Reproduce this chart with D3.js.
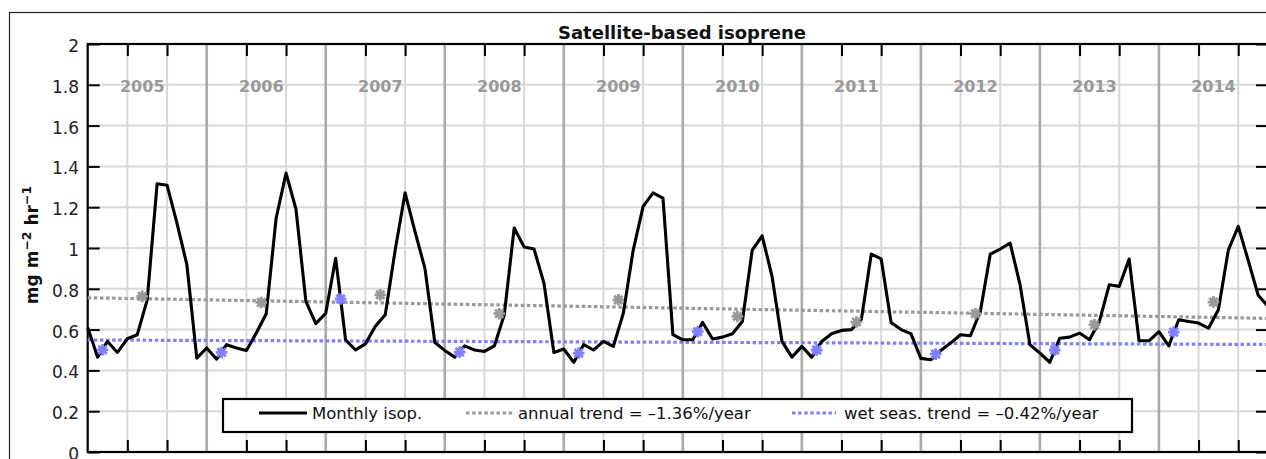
<!DOCTYPE html>
<html><head><meta charset="utf-8">
<script src="https://cdn.jsdelivr.net/npm/d3@7"></script>
<style>body{margin:0;background:#fff;overflow:hidden}svg{display:block;font-family:"DejaVu Sans",sans-serif}</style>
</head><body><svg id="c" width="1266" height="459"></svg>
<script>
// ---------- data ----------
const years = ["2005","2006","2007","2008","2009","2010","2011","2012","2013","2014"];
const monthlyIsop = [
  0.61, 0.465, 0.542, 0.488, 0.555, 0.575, 0.746, 1.315, 1.308, 1.122, 0.918, 0.46,
  0.51, 0.455, 0.526, 0.51, 0.498, 0.583, 0.678, 1.147, 1.367, 1.19, 0.738, 0.629,
  0.68, 0.95, 0.55, 0.50, 0.53, 0.616, 0.673, 0.99, 1.27, 1.08, 0.90, 0.537,
  0.498, 0.465, 0.52, 0.50, 0.493, 0.52, 0.673, 1.098, 1.005, 0.995, 0.828, 0.488,
  0.505, 0.439, 0.526, 0.50, 0.542, 0.518, 0.68, 0.99, 1.204, 1.27, 1.245, 0.575,
  0.55, 0.55, 0.635, 0.554, 0.563, 0.58, 0.64, 0.99, 1.06, 0.86, 0.542, 0.465,
  0.518, 0.465, 0.542, 0.58, 0.596, 0.60, 0.65, 0.97, 0.947, 0.635, 0.60, 0.58,
  0.459, 0.452, 0.498, 0.534, 0.575, 0.57, 0.69, 0.97, 0.995, 1.024, 0.82, 0.526,
  0.485, 0.44, 0.558, 0.563, 0.583, 0.55, 0.64, 0.82, 0.812, 0.946, 0.545, 0.545,
  0.59, 0.52, 0.648, 0.64, 0.632, 0.607, 0.697, 0.99, 1.106, 0.94, 0.77, 0.714
];
const annualMeans = [0.763, 0.733, 0.77, 0.678, 0.746, 0.665, 0.637, 0.678, 0.624, 0.735];
const wetMeans    = [0.501, 0.488, 0.75, 0.49, 0.485, 0.59, 0.50, 0.48, 0.50, 0.588];
const annualTrendEnds = [0.756, 0.655];
const wetTrendEnds    = [0.549, 0.527];
const yTickValues = [0, 0.2, 0.4, 0.6, 0.8, 1, 1.2, 1.4, 1.6, 1.8, 2];
const yTickLabels = ["0","0.2","0.4","0.6","0.8","1","1.2","1.4","1.6","1.8","2"];
const legendLabels = ["Monthly isop.", "annual trend = \u20131.36%/year", "wet seas. trend = \u20130.42%/year"];
const titleText = "Satellite-based isoprene";

// ---------- layout ----------
const svg = d3.select("#c");
const nMonths = monthlyIsop.length;
const x = d3.scaleLinear().domain([0, nMonths - 1]).range([87.7, 1268]);
const y = d3.scaleLinear().domain([0, 2]).range([452, 44]);
const GRAY = "#999999", BLUE = "#8080ff";

// outer figure border
svg.append("rect").attr("x", 9.5).attr("y", 12.5).attr("width", 1300).attr("height", 500)
  .attr("fill", "none").attr("stroke", "#222").attr("stroke-width", 1.2);

const monthIdx = d3.range(nMonths);
const minorMonths = monthIdx.filter(i => i % 12 === 4 || i % 12 === 8);
const yearStarts = monthIdx.filter(i => i % 12 === 0 && i > 0);

// grid
const grid = svg.append("g");
grid.selectAll("line.h").data(yTickValues.filter(v => v > 0 && v < 2)).join("line")
  .attr("x1", x(0)).attr("x2", x(nMonths - 1)).attr("y1", d => y(d)).attr("y2", d => y(d))
  .attr("stroke", "#d8d8d8").attr("stroke-width", 2);
grid.selectAll("line.v").data(minorMonths).join("line")
  .attr("x1", d => x(d)).attr("x2", d => x(d)).attr("y1", y(0)).attr("y2", y(2))
  .attr("stroke", "#d8d8d8").attr("stroke-width", 2);

// year labels
svg.append("g").selectAll("text").data(years).join("text")
  .attr("x", (d, k) => x(5.5 + 12 * k)).attr("y", y(1.8)).attr("dy", "0.42em")
  .attr("text-anchor", "middle").attr("font-weight", "bold").attr("font-size", 16)
  .attr("fill", GRAY).text(d => d);

// axes (ticks inward)
function styleAxis(g) {
  g.select(".domain").remove();
  g.selectAll(".tick line").attr("stroke", "#000").attr("stroke-width", 2);
  g.attr("font-size", 17).attr("font-family", '"DejaVu Sans", sans-serif');
  g.selectAll(".tick text").attr("fill", "#222");
}
svg.append("g").attr("transform", `translate(${x(0)},0)`)
  .call(d3.axisLeft(y).tickValues(yTickValues).tickSize(-12).tickPadding(8.7)
    .tickFormat((d, i) => yTickLabels[i]))
  .call(styleAxis).call(g => g.selectAll(".tick text").attr("dy", "0.44em"));
svg.append("g").attr("transform", `translate(${x(nMonths - 1)},0)`)
  .call(d3.axisRight(y).tickValues(yTickValues).tickSize(-12).tickFormat(""))
  .call(styleAxis);
svg.append("g").attr("transform", `translate(0,${y(2)})`)
  .call(d3.axisTop(x).tickValues(minorMonths).tickSize(-12).tickFormat(""))
  .call(styleAxis);
svg.append("g").attr("transform", `translate(0,${y(0)})`)
  .call(d3.axisBottom(x).tickValues(minorMonths).tickSize(-12).tickFormat(""))
  .call(styleAxis);

// year boundary lines
svg.append("g").selectAll("line").data(yearStarts).join("line")
  .attr("x1", d => x(d)).attr("x2", d => x(d)).attr("y1", y(0)).attr("y2", y(2))
  .attr("stroke", "#aaaaaa").attr("stroke-width", 2.6);

// frame
svg.append("rect").attr("x", x(0)).attr("y", y(2))
  .attr("width", x(nMonths - 1) - x(0)).attr("height", y(0) - y(2))
  .attr("fill", "none").attr("stroke", "#000").attr("stroke-width", 2.2);

// trend lines
const line2 = d3.line().x(d => x(d[0])).y(d => y(d[1]));
svg.append("path").datum([[0, annualTrendEnds[0]], [nMonths - 1, annualTrendEnds[1]]])
  .attr("d", line2).attr("fill", "none").attr("stroke", GRAY)
  .attr("stroke-width", 3.2).attr("stroke-dasharray", "3.5 2.6");
svg.append("path").datum([[0, wetTrendEnds[0]], [nMonths - 1, wetTrendEnds[1]]])
  .attr("d", line2).attr("fill", "none").attr("stroke", BLUE)
  .attr("stroke-width", 3.2).attr("stroke-dasharray", "3.5 2.6");

// monthly line
svg.append("path").datum(monthlyIsop)
  .attr("d", d3.line().x((d, i) => x(i)).y(d => y(d)))
  .attr("fill", "none").attr("stroke", "#000").attr("stroke-width", 3.1)
  .attr("stroke-linejoin", "round");

// asterisk markers
const r = 5.8;
const starPath = `M${-r},0L${r},0M0,${-r}L0,${r}M${-r*0.72},${-r*0.72}L${r*0.72},${r*0.72}M${-r*0.72},${r*0.72}L${r*0.72},${-r*0.72}`;
svg.append("g").selectAll("path").data(annualMeans).join("path")
  .attr("transform", (d, k) => `translate(${x(5.5 + 12 * k)},${y(d)})`)
  .attr("d", starPath).attr("stroke", GRAY).attr("stroke-width", 2.8).attr("fill", "none");
svg.append("g").selectAll("path").data(wetMeans).join("path")
  .attr("transform", (d, k) => `translate(${x(1.5 + 12 * k)},${y(d)})`)
  .attr("d", starPath).attr("stroke", BLUE).attr("stroke-width", 2.8).attr("fill", "none");

// title
svg.append("text").attr("x", 682).attr("y", 39).attr("text-anchor", "middle")
  .attr("font-weight", "bold").attr("font-size", 18).attr("fill", "#111").text(titleText);

// y label
const yl = svg.append("text").attr("transform", "translate(38,245) rotate(-90)")
  .attr("text-anchor", "middle").attr("font-weight", "bold").attr("font-size", 17).attr("fill", "#111");
yl.append("tspan").text("mg m");
yl.append("tspan").attr("dy", -7).attr("font-size", 12.5).text("\u22122");
yl.append("tspan").attr("dy", 7).text(" hr");
yl.append("tspan").attr("dy", -7).attr("font-size", 12.5).text("\u22121");

// legend
const lg = svg.append("g");
lg.append("rect").attr("x", 223).attr("y", 399).attr("width", 909).attr("height", 33)
  .attr("fill", "#fff").attr("stroke", "#000").attr("stroke-width", 2.2);
const legendItems = [
  {x0: 259, x1: 307, tx: 312, color: "#000", dash: null, w: 3.1},
  {x0: 466, x1: 513, tx: 518, color: GRAY, dash: "3.5 2.6", w: 3.2},
  {x0: 792, x1: 836, tx: 844, color: BLUE, dash: "3.5 2.6", w: 3.2}
];
legendItems.forEach((it, k) => {
  lg.append("line").attr("x1", it.x0).attr("x2", it.x1).attr("y1", 413).attr("y2", 413)
    .attr("stroke", it.color).attr("stroke-width", it.w).attr("stroke-dasharray", it.dash);
  lg.append("text").attr("x", it.tx).attr("y", 419).attr("font-size", 16.5).attr("fill", "#111")
    .text(legendLabels[k]);
});
</script></body></html>
